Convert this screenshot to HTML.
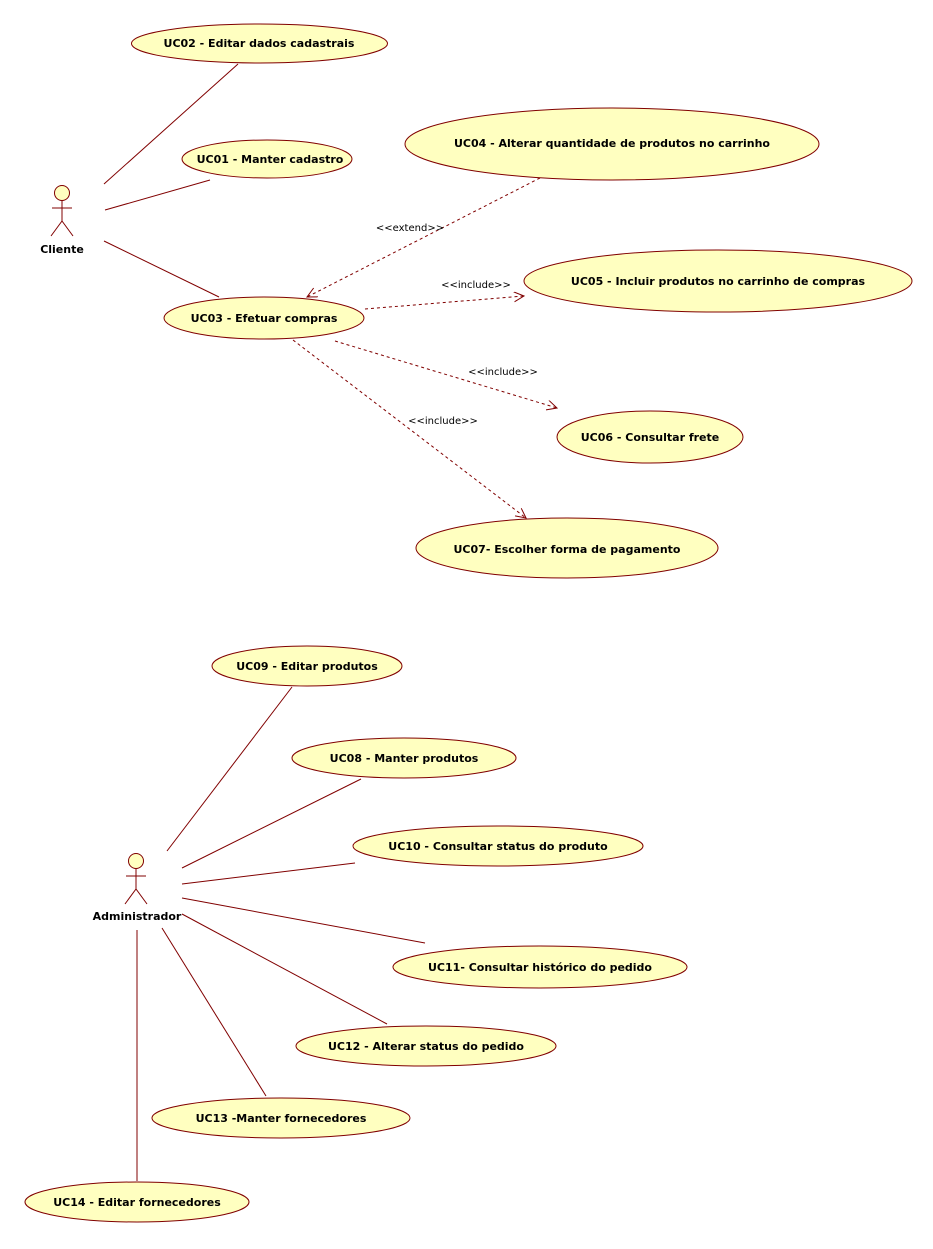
<!DOCTYPE html>
<html><head><meta charset="utf-8"><style>
body{margin:0;background:#fff}
svg text{font-family:"DejaVu Sans","Liberation Sans",sans-serif}
.u{fill:#ffffc0;stroke:#800000;stroke-width:1}
.t{font-size:11px;font-weight:bold;fill:#000;text-anchor:middle}
.l{stroke:#800000;stroke-width:1;fill:none}
.d{stroke:#800000;stroke-width:1;fill:none;stroke-dasharray:3,3}
.s{font-size:10px;fill:#000;text-anchor:middle}
</style></head><body>
<svg width="933" height="1244" viewBox="0 0 933 1244" xmlns="http://www.w3.org/2000/svg">
<defs><marker id="a" markerWidth="12" markerHeight="12" refX="10" refY="5" orient="auto" markerUnits="userSpaceOnUse"><path d="M0,0 L10,5 L0,10" fill="none" stroke="#800000"/></marker></defs>
<!-- lines -->
<line class="l" x1="104" y1="184" x2="238" y2="64"/>
<line class="l" x1="105" y1="210" x2="210" y2="180"/>
<line class="l" x1="104" y1="241" x2="219" y2="297"/>
<line class="d" x1="540" y1="178" x2="307" y2="297" marker-end="url(#a)"/>
<line class="d" x1="365" y1="309" x2="524" y2="296" marker-end="url(#a)"/>
<line class="d" x1="335" y1="341" x2="557" y2="408" marker-end="url(#a)"/>
<line class="d" x1="293" y1="340" x2="526" y2="518" marker-end="url(#a)"/>
<text class="s" x="410" y="231">&lt;&lt;extend&gt;&gt;</text>
<text class="s" x="476" y="288">&lt;&lt;include&gt;&gt;</text>
<text class="s" x="503" y="375">&lt;&lt;include&gt;&gt;</text>
<text class="s" x="443" y="424">&lt;&lt;include&gt;&gt;</text>
<line class="l" x1="167" y1="851" x2="292" y2="687"/>
<line class="l" x1="182" y1="868" x2="361" y2="779"/>
<line class="l" x1="182" y1="884" x2="355" y2="863"/>
<line class="l" x1="182" y1="898" x2="425" y2="943"/>
<line class="l" x1="182" y1="914" x2="387" y2="1024"/>
<line class="l" x1="162" y1="928" x2="266" y2="1096"/>
<line class="l" x1="137" y1="930" x2="137" y2="1181"/>
<!-- actors -->
<g class="l"><circle cx="62" cy="193" r="7.5" fill="#ffffc0"/><line x1="62" y1="200" x2="62" y2="221"/><line x1="52" y1="208" x2="72" y2="208"/><line x1="62" y1="221" x2="51" y2="236"/><line x1="62" y1="221" x2="73" y2="236"/></g>
<text class="t" x="62" y="253">Cliente</text>
<g class="l"><circle cx="136" cy="861" r="7.5" fill="#ffffc0"/><line x1="136" y1="868" x2="136" y2="889"/><line x1="126" y1="876" x2="146" y2="876"/><line x1="136" y1="889" x2="125" y2="904"/><line x1="136" y1="889" x2="147" y2="904"/></g>
<text class="t" x="137" y="920">Administrador</text>
<!-- use cases -->
<ellipse class="u" cx="259.5" cy="43.5" rx="128" ry="19.5"/><text class="t" x="259" y="47">UC02 - Editar dados cadastrais</text>
<ellipse class="u" cx="267" cy="159" rx="85" ry="19"/><text class="t" x="270" y="163">UC01 - Manter cadastro</text>
<ellipse class="u" cx="612" cy="144" rx="207" ry="36"/><text class="t" x="612" y="147">UC04 - Alterar quantidade de produtos no carrinho</text>
<ellipse class="u" cx="718" cy="281" rx="194" ry="31"/><text class="t" x="718" y="285">UC05 - Incluir produtos no carrinho de compras</text>
<ellipse class="u" cx="264" cy="318" rx="100" ry="21"/><text class="t" x="264" y="322">UC03 - Efetuar compras</text>
<ellipse class="u" cx="650" cy="437" rx="93" ry="26"/><text class="t" x="650" y="441">UC06 - Consultar frete</text>
<ellipse class="u" cx="567" cy="548" rx="151" ry="30"/><text class="t" x="567" y="553">UC07- Escolher forma de pagamento</text>
<ellipse class="u" cx="307" cy="666" rx="95" ry="20"/><text class="t" x="307" y="670">UC09 - Editar produtos</text>
<ellipse class="u" cx="404" cy="758" rx="112" ry="20"/><text class="t" x="404" y="762">UC08 - Manter produtos</text>
<ellipse class="u" cx="498" cy="846" rx="145" ry="20"/><text class="t" x="498" y="850">UC10 - Consultar status do produto</text>
<ellipse class="u" cx="540" cy="967" rx="147" ry="21"/><text class="t" x="540" y="971">UC11- Consultar histórico do pedido</text>
<ellipse class="u" cx="426" cy="1046" rx="130" ry="20"/><text class="t" x="426" y="1050">UC12 - Alterar status do pedido</text>
<ellipse class="u" cx="281" cy="1118" rx="129" ry="20"/><text class="t" x="281" y="1122">UC13 -Manter fornecedores</text>
<ellipse class="u" cx="137" cy="1202" rx="112" ry="20"/><text class="t" x="137" y="1206">UC14 - Editar fornecedores</text>
</svg>
</body></html>
